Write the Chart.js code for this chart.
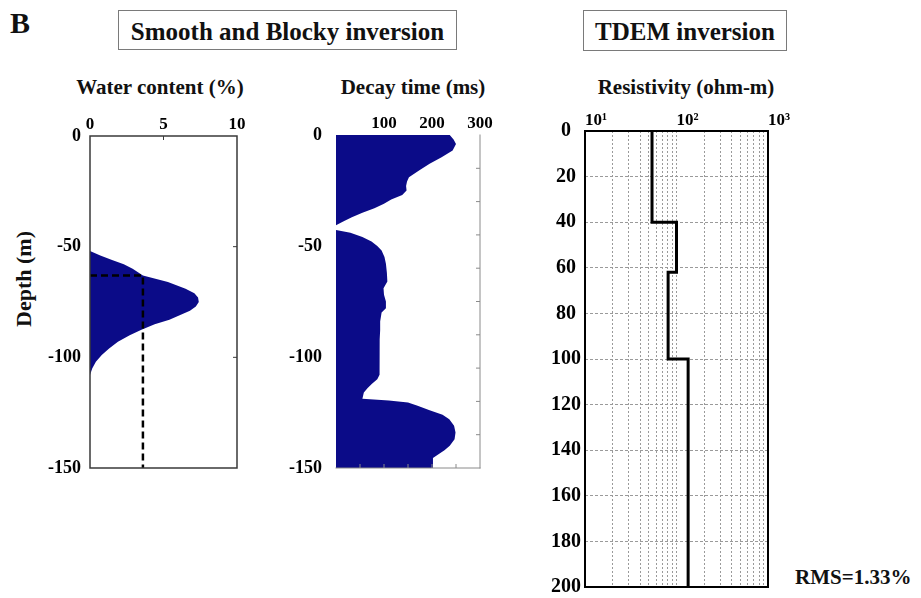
<!DOCTYPE html>
<html>
<head>
<meta charset="utf-8">
<script src="https://cdn.jsdelivr.net/npm/chart.js@4.4.0/dist/chart.umd.min.js"></script>
<style>
html,body{margin:0;padding:0;background:#fff;}
body{width:921px;height:598px;position:relative;overflow:hidden;font-family:'Liberation Serif','Times New Roman',serif;color:#111;}
.t{position:absolute;font-weight:bold;white-space:nowrap;line-height:1;}
.ptitle{width:300px;text-align:center;font-size:21px;top:77px;}
.box{position:absolute;border:1.5px solid #7a7a7a;box-sizing:border-box;text-align:center;font-weight:bold;font-size:25px;line-height:25px;padding-top:8px;white-space:nowrap;}
canvas{position:absolute;}
</style>
</head>
<body>
<div class="t" style="left:10px;top:8px;font-size:30px;">B</div>
<div class="box" style="left:118px;top:10px;width:339px;height:40px;">Smooth and Blocky inversion</div>
<div class="box" style="left:583px;top:10px;width:204px;height:41px;">TDEM inversion</div>
<div class="t ptitle" style="left:10px;">Water content (%)</div>
<div class="t ptitle" style="left:263px;">Decay time (ms)</div>
<div class="t ptitle" style="left:536px;">Resistivity (ohm-m)</div>
<div class="t" style="left:24px;top:279px;font-size:22px;transform:translate(-50%,-50%) rotate(-90deg);">Depth (m)</div>
<div class="t" style="left:795px;top:567px;font-size:21px;">RMS=1.33%</div>

<canvas id="c1" width="250" height="400" style="left:0px;top:100px;"></canvas>
<canvas id="c2" width="250" height="400" style="left:250px;top:100px;"></canvas>
<canvas id="c3" width="300" height="520" style="left:500px;top:100px;"></canvas>

<script>
// ---------- data ----------
// Water content profile (smooth/blocky NMR inversion)
const waterDepth   = [-52, -54, -56, -58, -60, -63, -66, -69, -71, -73, -75, -77, -79, -81, -83, -85, -87.5, -90, -93, -96, -99, -102, -105, -108];
const waterContent = [0, 0.7, 1.5, 2.3, 2.9, 3.6, 5.3, 6.5, 7.1, 7.35, 7.4, 7.2, 6.8, 6.1, 5.4, 4.4, 3.5, 2.7, 1.9, 1.3, 0.8, 0.4, 0.15, 0];
// dashed cut-off line
const cutoffContent = [0, 3.6, 3.6];
const cutoffDepth   = [-63, -63, -150];

// Decay time profile
const decayDepth = [0, -2, -4, -7, -10, -13, -16, -19, -21, -23, -25, -27, -29, -31, -33, -35, -37, -39, -40.6,
                    -42.8, -44, -46, -48, -50, -52, -55, -58, -62, -66, -69, -72, -75, -78, -80, -84, -88, -92, -96,
                    -100, -104, -108, -110, -112, -114, -116, -118.8, -119.6, -120.5, -122, -124, -126, -128, -131,
                    -134, -137, -140, -142, -144, -145.5, -150];
const decayTime  = [237, 245, 250, 243, 220, 195, 173, 152, 148, 146, 147, 138, 115, 100, 80, 55, 33, 15, 0,
                    0, 30, 55, 74, 86, 95, 101, 104, 106, 107, 99, 100, 104, 104, 95, 92, 92, 91, 91,
                    91, 90, 91, 86, 75, 66, 58, 55, 110, 150, 170, 195, 222, 236, 246,
                    249, 247, 237, 226, 212, 202, 202];

// TDEM layered model
const layerTop = [0, 40, 62, 100];
const layerRes = [54, 100, 81, 134];
const modelBottom = 200;

// tick values / labels
const depthTicks     = [0, -50, -100, -150];
const waterTicks     = [0, 5, 10];
const decayTicks     = [0, 100, 200, 300];
const decayLabels    = ['', '100', '200', '300'];
const resDepthTicks  = [0, 20, 40, 60, 80, 100, 120, 140, 160, 180, 200];
const resGridValues  = [10, 20, 30, 40, 50, 60, 70, 80, 90, 100, 200, 300, 400, 500, 600, 700, 800, 900, 1000];
const resTickValues  = [10, 100, 1000];
const resTickLabels  = ['10\u00B9', '10\u00B2', '10\u00B3'];

// ---------- helpers ----------
Chart.defaults.font.family = "'Liberation Serif', 'Times New Roman', serif";
Chart.defaults.color = '#000';
const NAVY = '#0b0b88';

const framePlugin = {
  id: 'frame',
  afterDatasetsDraw(chart, args, o) {
    if (!o || !o.sides) return;
    const {ctx, chartArea: a, scales: {x, y}} = chart;
    ctx.save();
    ctx.strokeStyle = o.color;
    ctx.lineWidth = o.width;
    ctx.lineCap = 'square';
    ctx.setLineDash([]);
    ctx.beginPath();
    if (o.sides.includes('t')) { ctx.moveTo(a.left, a.top); ctx.lineTo(a.right, a.top); }
    if (o.sides.includes('b')) { ctx.moveTo(a.left, a.bottom); ctx.lineTo(a.right, a.bottom); }
    if (o.sides.includes('l')) { ctx.moveTo(a.left, a.top); ctx.lineTo(a.left, a.bottom); }
    if (o.sides.includes('r')) { ctx.moveTo(a.right, a.top); ctx.lineTo(a.right, a.bottom); }
    ctx.stroke();
    const L = o.tickLen || 4;
    ctx.lineCap = 'butt';
    ctx.lineWidth = o.tickWidth || 1;
    ctx.beginPath();
    (o.topTicks || []).forEach(v => { const p = x.getPixelForValue(v); ctx.moveTo(p, a.top); ctx.lineTo(p, a.top + L); });
    (o.bottomTicks || []).forEach(v => { const p = x.getPixelForValue(v); ctx.moveTo(p, a.bottom); ctx.lineTo(p, a.bottom - L); });
    (o.rightTicks || []).forEach(v => { const p = y.getPixelForValue(v); ctx.moveTo(a.right, p); ctx.lineTo(a.right - L, p); });
    ctx.stroke();
    ctx.restore();
  }
};

const toPoints = (xs, ys) => xs.map((v, i) => ({x: v, y: ys[i]}));
const setTicks = arr => s => { s.ticks = arr.map(v => ({value: v})); };
const common = {
  type: 'line',
  responsive: false,
  animation: false,
  indexAxis: 'y',
  elements: {point: {radius: 0, hoverRadius: 0}, line: {tension: 0}},
  plugins: {legend: {display: false}, tooltip: {enabled: false}}
};

// ---------- chart 1 : water content ----------
new Chart(document.getElementById('c1'), {
  type: 'line',
  data: {
    datasets: [
      {data: toPoints(cutoffContent, cutoffDepth), borderColor: '#000', borderWidth: 2.5, borderDash: [7, 4], fill: false},
      {data: toPoints(waterContent, waterDepth), borderWidth: 0, borderColor: NAVY, backgroundColor: NAVY, fill: 'origin'}
    ]
  },
  options: {
    ...common,
    layout: {padding: {left: 0, top: 0, right: 13, bottom: 32}},
    plugins: {...common.plugins, frame: {sides: 'tlrb', color: '#3a3a3a', width: 1.5, topTicks: [5], rightTicks: [-50, -100], tickLen: 4}},
    scales: {
      x: {type: 'linear', position: 'top', min: 0, max: 10,
          afterFit: s => { s.height = 36; }, afterBuildTicks: setTicks(waterTicks),
          grid: {display: false, drawTicks: false}, border: {display: false},
          ticks: {padding: 1, maxRotation: 0, font: {size: 17, weight: 'bold'}, color: '#000'}},
      y: {type: 'linear', min: -150, max: 0,
          afterFit: s => { s.width = 90; }, afterBuildTicks: setTicks(depthTicks),
          grid: {display: false, drawTicks: false}, border: {display: false},
          ticks: {padding: 9, font: {size: 18, weight: 'bold'}, color: '#000', callback: v => String(v)}}
    }
  },
  plugins: [framePlugin]
});

// ---------- chart 2 : decay time ----------
new Chart(document.getElementById('c2'), {
  type: 'line',
  data: {
    datasets: [
      {data: toPoints(decayTime, decayDepth), borderWidth: 0, borderColor: NAVY, backgroundColor: NAVY, fill: 'origin'}
    ]
  },
  options: {
    ...common,
    layout: {padding: {left: 0, top: 0, right: 20, bottom: 32}},
    plugins: {...common.plugins, frame: {sides: 'rb', color: '#8a8a8a', width: 1,
      rightTicks: [-15, -30, -45, -60, -75, -90, -105, -120, -135], bottomTicks: [50, 100, 150, 200, 250], tickLen: 4}},
    scales: {
      x: {type: 'linear', position: 'top', min: 0, max: 300,
          afterFit: s => { s.height = 35; }, afterBuildTicks: setTicks(decayTicks),
          grid: {display: false, drawTicks: false}, border: {display: false},
          ticks: {padding: 1, maxRotation: 0, font: {size: 17, weight: 'bold'}, color: '#000',
                  callback: (v, i) => decayLabels[decayTicks.indexOf(v)]}},
      y: {type: 'linear', min: -150, max: 0,
          afterFit: s => { s.width = 86; }, afterBuildTicks: setTicks(depthTicks),
          grid: {display: false, drawTicks: false}, border: {display: false},
          ticks: {padding: 14, font: {size: 18, weight: 'bold'}, color: '#000', callback: v => String(v)}}
    }
  },
  plugins: [framePlugin]
});

// ---------- chart 3 : TDEM resistivity ----------
const modelPoints = [];
layerTop.forEach((top, i) => {
  const bottom = i < layerTop.length - 1 ? layerTop[i + 1] : modelBottom;
  modelPoints.push({x: layerRes[i], y: top});
  modelPoints.push({x: layerRes[i], y: bottom});
});

new Chart(document.getElementById('c3'), {
  type: 'line',
  data: {
    datasets: [
      {data: modelPoints, borderColor: '#000', borderWidth: 3, fill: false, borderJoinStyle: 'miter'}
    ]
  },
  options: {
    ...common,
    layout: {padding: {left: 0, top: 0, right: 32, bottom: 33}},
    plugins: {...common.plugins, frame: {sides: 'tlrb', color: '#000', width: 2}},
    scales: {
      x: {type: 'logarithmic', position: 'top', min: 10, max: 1000,
          afterFit: s => { s.height = 31; }, afterBuildTicks: setTicks(resGridValues),
          grid: {display: true, drawTicks: false, color: '#9a9a9a', lineWidth: 1},
          border: {display: false, dash: [2, 2]},
          ticks: {padding: 0, align: 'start', autoSkip: false, maxRotation: 0, minRotation: 0,
                  font: {size: 17, weight: 'bold'}, color: '#000',
                  callback: v => { const k = resTickValues.indexOf(v); return k >= 0 ? resTickLabels[k] : ''; }}},
      y: {type: 'linear', min: 0, max: 200, reverse: true,
          afterFit: s => { s.width = 85; }, afterBuildTicks: setTicks(resDepthTicks),
          grid: {display: true, drawTicks: false, color: '#9a9a9a', lineWidth: 1},
          border: {display: false, dash: [3, 2]},
          ticks: {padding: 4, crossAlign: 'center', font: {size: 20, weight: 'bold'}, color: '#000', callback: v => String(v)}}
    }
  },
  plugins: [framePlugin]
});
</script>
</body>
</html>
